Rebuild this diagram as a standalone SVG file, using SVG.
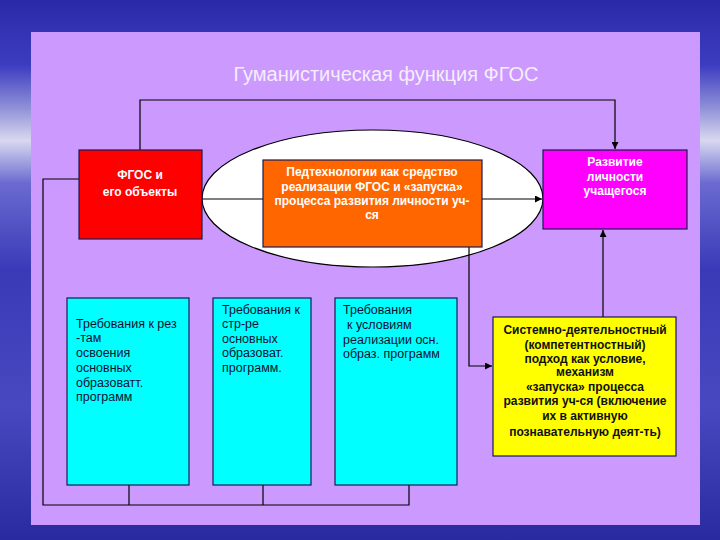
<svg xmlns="http://www.w3.org/2000/svg" width="720" height="540" viewBox="0 0 720 540">
<defs>
<linearGradient id="bg" x1="0" y1="0" x2="0" y2="1">
<stop offset="0" stop-color="#2a2aa8"/>
<stop offset="0.12" stop-color="#3c3cc0"/>
<stop offset="0.2" stop-color="#9090d8"/>
<stop offset="0.26" stop-color="#d8d8f0"/>
<stop offset="0.34" stop-color="#6a6ad0"/>
<stop offset="0.5" stop-color="#3a3ab8"/>
<stop offset="0.75" stop-color="#4848c0"/>
<stop offset="1" stop-color="#2a2aa0"/>
</linearGradient>
<marker id="ah" viewBox="0 0 10 10" refX="10" refY="5" markerWidth="7" markerHeight="7" markerUnits="userSpaceOnUse" orient="auto">
<path d="M0,0 L10,5 L0,10 z" fill="#000"/>
</marker>
<style>
.ln{stroke:#000;stroke-width:1.2;fill:none}
.bx{stroke:#1a1a50;stroke-width:1.2}
.w{font-family:"Liberation Sans",Arial,sans-serif;font-size:12px;font-weight:bold;fill:#ffffff;text-anchor:middle}
.d{font-family:"Liberation Sans",Arial,sans-serif;font-size:12.5px;fill:#101030}
.y{font-family:"Liberation Sans",Arial,sans-serif;font-size:12px;font-weight:bold;fill:#101010;text-anchor:middle}
</style>
</defs>
<rect x="0" y="0" width="720" height="540" fill="url(#bg)"/>
<rect x="31" y="32" width="669" height="493" fill="#cc99ff"/>
<text x="386" y="81" font-family="'Liberation Sans',Arial,sans-serif" font-size="20" fill="#f4eefa" text-anchor="middle">Гуманистическая функция ФГОС</text>

<g id="ellipse"><ellipse cx="372.5" cy="198.5" rx="170.5" ry="68.5" fill="#ffffff" stroke="#000" stroke-width="1.2"/></g>

<g id="connectors">
<polyline class="ln" points="140,150 140,100 615,100 615,149" marker-end="url(#ah)"/>
<line class="ln" x1="202" y1="199" x2="263" y2="199"/>
<line class="ln" x1="482" y1="199" x2="542" y2="199" marker-end="url(#ah)"/>
<line class="ln" x1="603" y1="317" x2="603" y2="230" marker-end="url(#ah)"/>
<polyline class="ln" points="469,247 469,366 492,366" marker-end="url(#ah)"/>
<polyline class="ln" points="79,179 43,179 43,505 409,505 409,485"/>
<line class="ln" x1="129" y1="485" x2="129" y2="505"/>
<line class="ln" x1="263" y1="485" x2="263" y2="505"/>
</g>

<g id="fgos">
<rect class="bx" x="79" y="150" width="123" height="89" fill="#ff0000"/>
<text class="w" x="140" y="179">ФГОС и</text>
<text class="w" x="140" y="196">его объекты</text>
</g>

<g id="pedtech">
<rect class="bx" x="263" y="160" width="219" height="87" fill="#ff6600"/>
<text class="w" x="372" y="176">Педтехнологии как средство</text>
<text class="w" x="372" y="191">реализации ФГОС и «запуска»</text>
<text class="w" x="372" y="205">процесса развития личности уч-</text>
<text class="w" x="372" y="219">ся</text>
</g>

<g id="razvitie">
<rect class="bx" x="543" y="150" width="144" height="79" fill="#ff00ff"/>
<text class="w" x="615" y="166">Развитие</text>
<text class="w" x="615" y="181">личности</text>
<text class="w" x="615" y="195">учащегося</text>
</g>

<g id="req1">
<rect class="bx" x="67" y="298" width="122" height="187" fill="#00ffff"/>
<text class="d" x="76" y="328">Требования к рез</text>
<text class="d" x="76" y="342">-там</text>
<text class="d" x="76" y="357">освоения</text>
<text class="d" x="76" y="372">основных</text>
<text class="d" x="76" y="387">образоватт.</text>
<text class="d" x="76" y="401">программ</text>
</g>

<g id="req2">
<rect class="bx" x="213" y="298" width="98" height="187" fill="#00ffff"/>
<text class="d" x="222" y="314">Требования к</text>
<text class="d" x="222" y="328">стр-ре</text>
<text class="d" x="222" y="343">основных</text>
<text class="d" x="222" y="357">образоват.</text>
<text class="d" x="222" y="372">программ.</text>
</g>

<g id="req3">
<rect class="bx" x="335" y="298" width="122" height="187" fill="#00ffff"/>
<text class="d" x="343" y="314">Требования</text>
<text class="d" x="347" y="329">к условиям</text>
<text class="d" x="343" y="344">реализации осн.</text>
<text class="d" x="343" y="358">образ. программ</text>
</g>

<g id="approach">
<rect class="bx" x="493" y="317" width="183" height="139" fill="#ffff00"/>
<text class="y" x="585" y="334">Системно-деятельностный</text>
<text class="y" x="585" y="349">(компетентностный)</text>
<text class="y" x="585" y="363">подход как условие,</text>
<text class="y" x="585" y="376">механизм</text>
<text class="y" x="585" y="391">«запуска» процесса</text>
<text class="y" x="585" y="405">развития уч-ся (включение</text>
<text class="y" x="585" y="420">их в активную</text>
<text class="y" x="585" y="436">познавательную деят-ть)</text>
</g>
</svg>
